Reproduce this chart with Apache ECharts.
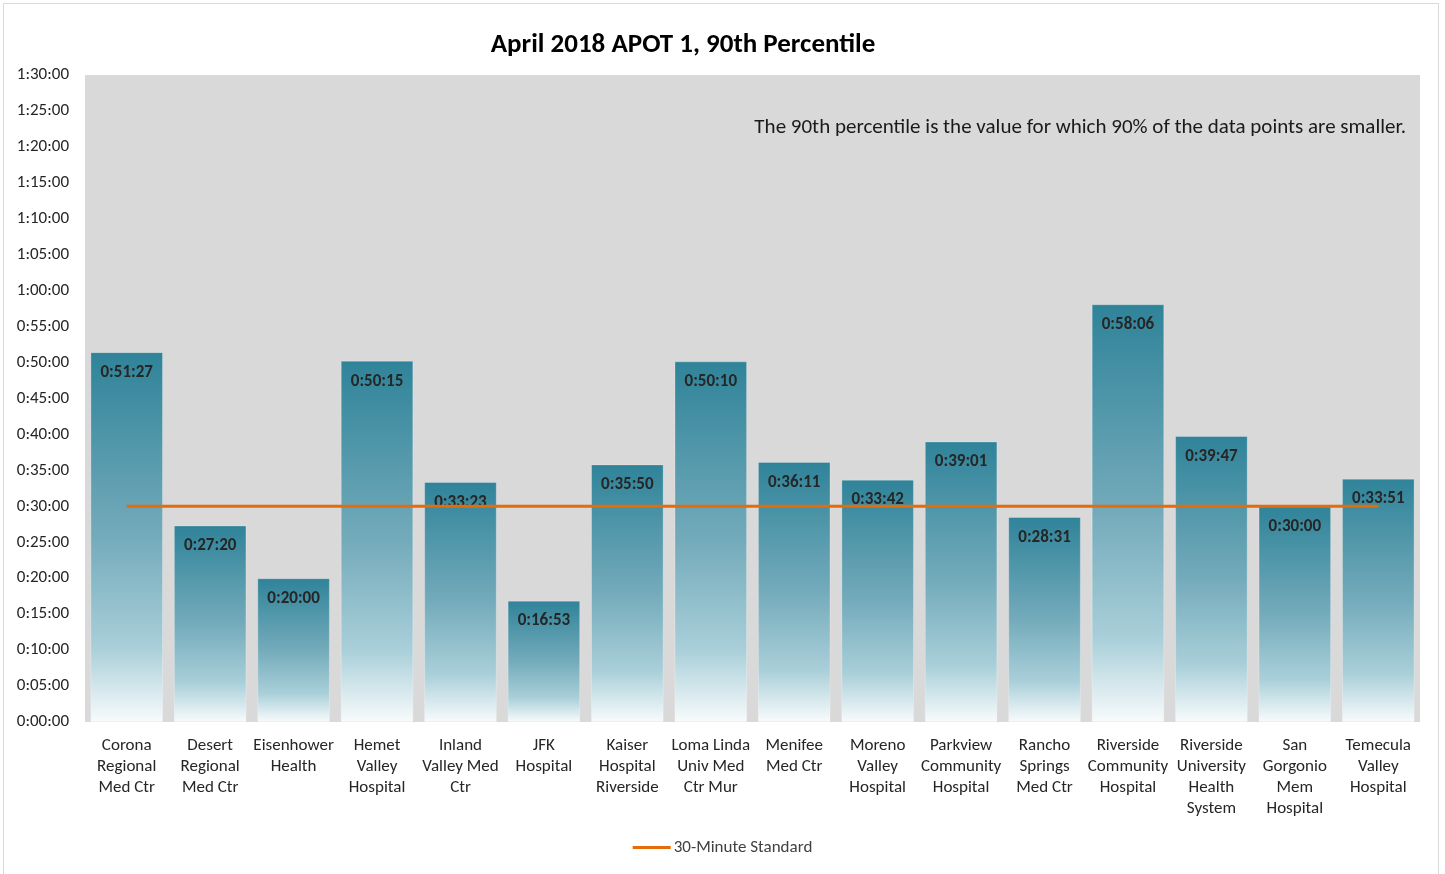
<!DOCTYPE html>
<html>
<head>
<meta charset="utf-8">
<script src="https://cdn.jsdelivr.net/npm/echarts@6/dist/echarts.min.js"></script>
<style>
html,body{margin:0;padding:0;background:#fff;}
#frame{position:absolute;left:3px;top:3px;width:1436px;height:880px;border:1px solid #d9d9d9;box-sizing:border-box;}
#chart{position:absolute;left:0;top:0;width:1445px;height:874px;}
</style>
</head>
<body>
<div id="frame"></div>
<div id="chart"></div>
<script>
const categories = [
  "Corona\nRegional\nMed Ctr",
  "Desert\nRegional\nMed Ctr",
  "Eisenhower\nHealth",
  "Hemet\nValley\nHospital",
  "Inland\nValley Med\nCtr",
  "JFK\nHospital",
  "Kaiser\nHospital\nRiverside",
  "Loma Linda\nUniv Med\nCtr Mur",
  "Menifee\nMed Ctr",
  "Moreno\nValley\nHospital",
  "Parkview\nCommunity\nHospital",
  "Rancho\nSprings\nMed Ctr",
  "Riverside\nCommunity\nHospital",
  "Riverside\nUniversity\nHealth\nSystem",
  "San\nGorgonio\nMem\nHospital",
  "Temecula\nValley\nHospital"
];
const percentile90 = ["0:51:27","0:27:20","0:20:00","0:50:15","0:33:23","0:16:53","0:35:50","0:50:10","0:36:11","0:33:42","0:39:01","0:28:31","0:58:06","0:39:47","0:30:00","0:33:51"];
const standard = ["0:30:00","0:30:00","0:30:00","0:30:00","0:30:00","0:30:00","0:30:00","0:30:00","0:30:00","0:30:00","0:30:00","0:30:00","0:30:00","0:30:00","0:30:00","0:30:00"];
const yMaxText = "1:30:00";
const yStepText = "0:05:00";

function toSec(t){const p=t.split(':').map(Number);return p[0]*3600+p[1]*60+p[2];}
function fmt(s){s=Math.round(s);const h=Math.floor(s/3600),m=Math.floor((s%3600)/60),x=s%60;return h+':'+String(m).padStart(2,'0')+':'+String(x).padStart(2,'0');}

const FONT = "Carlito, Lato, 'Noto Sans', sans-serif";
const chart = echarts.init(document.getElementById('chart'));
chart.setOption({
  animation:false,
  textStyle:{fontFamily:FONT},
  grid:{left:85,right:25,top:75,bottom:152,show:true,backgroundColor:'#d9d9d9',borderWidth:0},
  graphic:[
    {type:'text',x:683,y:45,style:{text:'April 2018 APOT 1, 90th Percentile',font:"bold 27px "+FONT,fill:'#000',textAlign:'center',textVerticalAlign:'middle'}},
    {type:'text',x:1406,y:128,style:{text:'The 90th percentile is the value for which 90% of the data points are smaller.',font:"21px "+FONT,fill:'#1a1a1a',textAlign:'right',textVerticalAlign:'middle'}}
  ],
  legend:{bottom:13,left:'center',data:['30-Minute Standard'],icon:'rect',itemWidth:38,itemHeight:3,itemGap:10,
    textStyle:{fontSize:17,color:'#404040',fontFamily:FONT,padding:[0,0,0,-2]}},
  xAxis:{type:'category',data:categories,axisTick:{show:false},axisLine:{show:false},
    axisLabel:{interval:0,fontSize:17,lineHeight:21,color:'#262626',margin:13,fontFamily:FONT}},
  yAxis:{type:'value',min:0,max:toSec(yMaxText),interval:toSec(yStepText),splitLine:{show:false},
    axisLine:{show:false},axisTick:{show:false},
    axisLabel:{formatter:v=>fmt(v),fontSize:17,color:'#262626',margin:16,fontFamily:FONT}},
  series:[
    {type:'bar',name:'90th Percentile',data:percentile90.map(toSec),barWidth:'87%',
      itemStyle:{color:new echarts.graphic.LinearGradient(0,0,0,1,[
        {offset:0,color:'#2f8399'},{offset:0.5,color:'#74abbb'},{offset:0.8,color:'#a9cfd9'},{offset:1,color:'#f8fbfc'}]),
        borderColor:'rgba(255,255,255,0.25)',borderWidth:1},
      label:{show:true,position:'insideTop',distance:12,formatter:p=>fmt(p.value),fontSize:17,fontWeight:'bold',color:'#262626',fontFamily:FONT}},
    {type:'line',name:'30-Minute Standard',data:standard.map(toSec),symbol:'none',
      lineStyle:{color:'#e46c0a',width:3},itemStyle:{color:'#e46c0a'},z:5}
  ]
});
</script>
</body>
</html>
